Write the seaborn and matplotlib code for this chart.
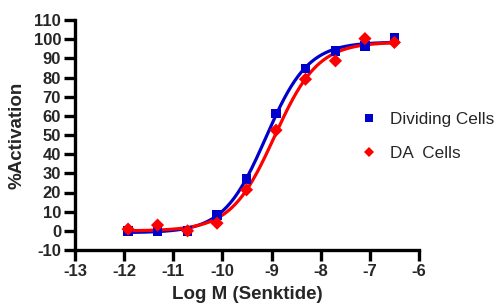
import numpy as np
import pandas as pd
import matplotlib
matplotlib.use("Agg")
import matplotlib.pyplot as plt
from matplotlib.lines import Line2D
import seaborn as sns

# ---- data ----
log_conc = [-11.92, -11.32, -10.71, -10.11, -9.51, -8.91, -8.31, -7.70, -7.10, -6.50]
dividing_cells = [0.0, 0.0, 0.0, 8.2, 27.0, 61.2, 84.7, 93.9, 96.5, 100.5]
da_cells = [0.9, 3.0, 0.0, 4.0, 21.4, 52.5, 79.1, 88.7, 100.3, 98.3]
series_names = ["Dividing Cells", "DA  Cells"]
series_colors = ["#0000CC", "#FF0000"]
series_markers = ["s", "D"]
x_ticks = [-13, -12, -11, -10, -9, -8, -7, -6]
y_ticks = list(range(-10, 111, 10))


def fit_sigmoid(x, y):
    """Least-squares fit of a 4-parameter logistic (grid search + linear solve)."""
    x = np.asarray(x, float)
    y = np.asarray(y, float)
    best = None
    for ec50 in np.arange(-10.5, -7.5, 0.005):
        for hill in np.arange(0.5, 2.0, 0.01):
            f = 1.0 / (1.0 + 10 ** ((ec50 - x) * hill))
            A = np.column_stack([np.ones_like(f), f])
            coef, *_ = np.linalg.lstsq(A, y, rcond=None)
            sse = np.sum((A @ coef - y) ** 2)
            if best is None or sse < best[0]:
                best = (sse, ec50, hill, coef[0], coef[1])
    _, ec50, hill, b, span = best
    return lambda xx: b + span / (1.0 + 10 ** ((ec50 - xx) * hill))


sns.set_style("ticks")
plt.rcParams["font.family"] = ["Liberation Sans", "DejaVu Sans"]

fig = plt.figure(figsize=(5.03, 3.05), dpi=100)
ax = fig.add_axes([75 / 503, 55 / 305, 344 / 503, 230 / 305])

rows = []
curves = []
for name, vals in zip(series_names, [dividing_cells, da_cells]):
    for xv, yv in zip(log_conc, vals):
        rows.append({"x": xv, "y": yv, "series": name})
    model = fit_sigmoid(log_conc, vals)
    xs = np.linspace(min(log_conc), max(log_conc), 300)
    curves.append(pd.DataFrame({"x": xs, "y": model(xs), "series": name}))
pts = pd.DataFrame(rows)
curve_df = pd.concat(curves, ignore_index=True)

palette = dict(zip(series_names, series_colors))
sns.lineplot(data=curve_df, x="x", y="y", hue="series", palette=palette,
             linewidth=2.3, legend=False, ax=ax, zorder=2)
for name, mk in zip(series_names, series_markers):
    sub = pts[pts["series"] == name]
    sns.scatterplot(data=sub, x="x", y="y", color=palette[name], marker=mk,
                    s=50 if mk == "s" else 45, edgecolor="none", legend=False,
                    ax=ax, zorder=3)

ax.set_xlim(-13, -6)
ax.set_ylim(-10, 110)
ax.set_xticks(x_ticks)
ax.set_yticks(y_ticks)
ax.set_xticklabels([str(t) for t in x_ticks])
ax.set_yticklabels([str(t) for t in y_ticks])
for lab in ax.get_xticklabels() + ax.get_yticklabels():
    lab.set_fontweight("bold")
    lab.set_fontsize(12)
ax.tick_params(axis="both", length=8, width=2.4, color="black", pad=2)
for side in ["top", "right"]:
    ax.spines[side].set_visible(False)
for side in ["left", "bottom"]:
    ax.spines[side].set_linewidth(2.4)
    ax.spines[side].set_color("black")

ax.set_xlabel("Log M (Senktide)", fontsize=13.5, fontweight="bold", labelpad=5)
ax.set_ylabel("%Activation", fontsize=13.5, fontweight="bold", labelpad=6)

handles = [Line2D([0], [0], linestyle="none", marker=m, color=c,
                  markersize=6 if m == "s" else 5.5, markeredgewidth=0)
           for m, c in zip(series_markers, series_colors)]
ax.legend(handles, series_names, loc="upper left", bbox_to_anchor=(0.81, 0.628),
          frameon=False, fontsize=12.3, handletextpad=0.75, labelspacing=1.08,
          handlelength=1.0, borderaxespad=0)

fig.savefig("out.png", dpi=100)
